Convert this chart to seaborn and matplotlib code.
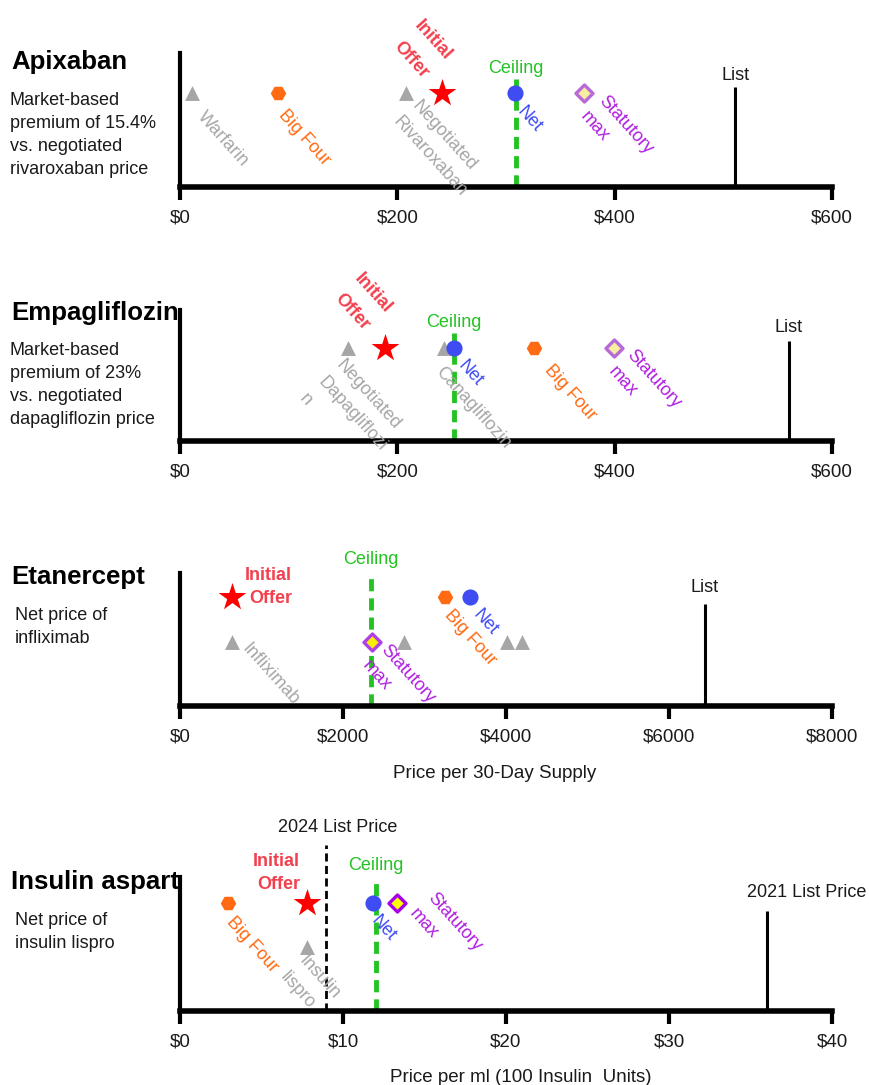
import numpy as np
import pandas as pd
import seaborn as sns
import matplotlib.pyplot as plt

# ---- chart data ----
drugs = ["Apixaban", "Empagliflozin", "Etanercept", "Insulin aspart"]
notes = [
    "Market-based\npremium of 15.4%\nvs. negotiated\nrivaroxaban price",
    "Market-based\npremium of 23%\nvs. negotiated\ndapagliflozin price",
    "Net price of\ninfliximab",
    "Net price of\ninsulin lispro",
]
comparator_prices = [[11, 208], [155, 243], [640, 2744, 4012, 4195], [7.8]]
comparator_names = [
    ["Warfarin", "Negotiated\nRivaroxaban"],
    ["Negotiated\nDapagliflozi\nn", "Canagliflozin"],
    ["Infliximab", "", "", ""],
    ["Insulin\nlispro"],
]
big_four_prices = [90, 326, 3256, 2.94]
initial_offers = [241, 189, 640, 7.8]
net_prices = [308, 252, 3561, 11.85]
ceiling_prices = [309, 252, 2345, 12.0]
statutory_max = [372, 399, 2350, 13.3]
list_prices = [511, 560, 6440, 36.0]
list_names = ["List", "List", "List", "2021 List Price"]
list_2024_insulin = 8.95
x_ticks = [[0, 200, 400, 600], [0, 200, 400, 600],
           [0, 2000, 4000, 6000, 8000], [0, 10, 20, 30, 40]]
x_titles = ["", "", "Price per 30-Day Supply", "Price per ml (100 Insulin  Units)"]

# ---- layout (pixels of the 870x1085 canvas) ----
W, H = 870, 1085
AX_LEFT, AX_RIGHT = 180, 832
AX_SPANS = [(53, 187), (310, 441), (573, 706), (877, 1011)]
ROW_Y = [(0.70, 0.70), (0.71, 0.71), (0.82, 0.48), (0.805, 0.478)]
COMP_ROW = [0, 0, 1, 1]
STAT_ROW = [0, 0, 1, 0]
LIST_TOP = [0.746, 0.763, 0.767, 0.746]
CEIL_TOP = [0.806, 0.824, 1.0, 0.985]
TITLE_Y = [62, 313, 577, 882]
NOTE_TOP = [92, 342, 607, 912]
NOTE_X = [10, 10, 15, 15]
LIST_GAP = [3.5, 5.5, 7.5, 10]
CEIL_GAP = [1.5, 2, 4.5, 5.5]

# label anchor offsets in px (right, down) from the marker
COMP_OFF = [[(15, 15), (15, 4)], [(-3, 9), (1, 16)], [(19, -2)], [(1, 5)]]
BIG_OFF = [(10, 13), (19, 14), (8, 10), (8, 10)]
NET_OFF = [(11, 10), (13, 9), (12, 9), (7, 9)]
STAT_OFF = [(24, -1), (22, -1), (18, -1), (40, -14)]
OFFER_OFF = [(-37, -28), (-40, -30), (60, -10), (-7, -30)]

GRAY = "#a6a6a6"
ORANGE = "#ff6a12"
RED = "#ff0000"
OFFER = "#f2404e"
GREEN = "#22c322"
BLUE = "#3f4cf2"
PURPLE = "#b01fe0"
DIAMOND_FACE = ["#f6eea0", "#f6eea0", "#f8f000", "#ffff00"]
DIAMOND_EDGE = ["#b86ad8", "#b86ad8", "#b040e8", "#a800e8"]
ROT = -48


def px(dx, dy):
    return dx * 0.72, -dy * 0.72


def tag(ax, text, x, y, off, color, **kw):
    ax.annotate(text, (x, y), xytext=px(*off), textcoords="offset points",
                color=color, fontsize=13, rotation=ROT, rotation_mode="anchor",
                ha="left", va="top", linespacing=1.6, annotation_clip=False, **kw)


sns.set_theme(style="white")
plt.rcParams["font.family"] = ["Liberation Sans", "DejaVu Sans"]

fig = plt.figure(figsize=(W / 100, H / 100), dpi=100)

for i, drug in enumerate(drugs):
    top, bottom = AX_SPANS[i]
    ax = fig.add_axes([AX_LEFT / W, 1 - bottom / H,
                       (AX_RIGHT - AX_LEFT) / W, (bottom - top) / H])
    ax.set_xlim(x_ticks[i][0], x_ticks[i][-1])
    ax.set_ylim(0, 1)
    ax.patch.set_alpha(0)

    up, low = ROW_Y[i]
    comp_y = low if COMP_ROW[i] else up
    stat_y = low if STAT_ROW[i] else up

    # reference lines
    ax.vlines(list_prices[i], 0, LIST_TOP[i], color="black", lw=2.2, zorder=2)
    ax.plot([ceiling_prices[i]] * 2, [0, CEIL_TOP[i]], color=GREEN, lw=3.5,
            ls=(0, (2.5, 1.45)), zorder=2)
    if i == 3:
        ax.plot([list_2024_insulin] * 2, [0, 1.24], color="black", lw=2,
                ls=(0, (2.9, 1.6)), zorder=2, clip_on=False)
        ax.annotate("2024 List Price", (list_2024_insulin, 1.24),
                    xytext=px(12, -9), textcoords="offset points", ha="center",
                    va="bottom", fontsize=13, color="#1a1a1a", annotation_clip=False)

    # markers
    comps = comparator_prices[i]
    sns.scatterplot(x=comps, y=[comp_y] * len(comps), marker="^", s=115,
                    color=GRAY, linewidth=0, ax=ax, zorder=3, legend=False)
    sns.scatterplot(x=[big_four_prices[i]], y=[up], marker="H", s=125,
                    color=ORANGE, linewidth=0, ax=ax, zorder=3, legend=False)
    sns.scatterplot(x=[initial_offers[i]], y=[up], marker="*", s=440,
                    color=RED, linewidth=0, ax=ax, zorder=3, legend=False)
    sns.scatterplot(x=[net_prices[i]], y=[up], marker="o", s=135,
                    color=BLUE, linewidth=0, ax=ax, zorder=3, legend=False)
    sns.scatterplot(x=[statutory_max[i]], y=[stat_y], marker="D", s=75,
                    color=DIAMOND_FACE[i], edgecolor=DIAMOND_EDGE[i],
                    linewidth=2.4, ax=ax, zorder=4, legend=False)

    # labels
    for x, name, off in zip(comps, comparator_names[i], COMP_OFF[i]):
        if name:
            tag(ax, name, x, comp_y, off, GRAY)
    tag(ax, "Big Four", big_four_prices[i], up, BIG_OFF[i], ORANGE)
    tag(ax, "Net", net_prices[i], up, NET_OFF[i], BLUE)
    tag(ax, "Statutory\nmax", statutory_max[i], stat_y, STAT_OFF[i], PURPLE)

    if i < 2:
        ax.annotate("Initial\nOffer", (initial_offers[i], up),
                    xytext=px(*OFFER_OFF[i]), textcoords="offset points",
                    rotation=ROT, rotation_mode="anchor", ha="center", va="bottom",
                    multialignment="center", fontsize=13, fontweight="bold",
                    color=OFFER, linespacing=1.9, annotation_clip=False)
    else:
        ax.annotate("Initial\nOffer", (initial_offers[i], up),
                    xytext=px(*OFFER_OFF[i]), textcoords="offset points",
                    ha="right", va="center", multialignment="right",
                    fontsize=13, fontweight="bold", color=OFFER,
                    linespacing=1.45, annotation_clip=False)

    ax.annotate("Ceiling", (ceiling_prices[i], CEIL_TOP[i]),
                xytext=px(0, -CEIL_GAP[i]), textcoords="offset points",
                ha="center", va="bottom", fontsize=13, color=GREEN,
                annotation_clip=False)
    if i < 3:
        ax.annotate(list_names[i], (list_prices[i], LIST_TOP[i]),
                    xytext=px(0, -LIST_GAP[i]), textcoords="offset points",
                    ha="center", va="bottom", fontsize=13, color="#1a1a1a",
                    annotation_clip=False)
    else:
        ax.annotate(list_names[i], (list_prices[i], LIST_TOP[i]),
                    xytext=px(-20, -LIST_GAP[i]), textcoords="offset points",
                    ha="left", va="bottom", fontsize=13, color="#1a1a1a",
                    annotation_clip=False)

    # axes styling
    sns.despine(ax=ax)
    ax.spines["left"].set_linewidth(3)
    ax.spines["bottom"].set_linewidth(4)
    for s in ("left", "bottom"):
        ax.spines[s].set_color("black")
    ax.set_yticks([])
    ax.set_xticks(x_ticks[i])
    ax.set_xticklabels([f"${t}" for t in x_ticks[i]])
    ax.tick_params(axis="x", bottom=True, length=9, width=3, color="black",
                   pad=7.5, labelsize=13.5, labelcolor="#1a1a1a")
    ax.set_ylabel("")
    if x_titles[i]:
        ax.set_xlabel(x_titles[i], fontsize=13.5, color="#1a1a1a")
        ax.xaxis.set_label_coords(0.482 if i == 2 else 0.523,
                                  -0.445 if i == 2 else -0.435)
    else:
        ax.set_xlabel("")

    # left-hand titles
    fig.text(11 / W, 1 - TITLE_Y[i] / H, drug,
             fontsize=18.6, fontweight="bold", va="center", ha="left", color="black")
    fig.text(NOTE_X[i] / W, 1 - NOTE_TOP[i] / H, notes[i], fontsize=13,
             va="top", ha="left", linespacing=1.45, color="#1a1a1a")

fig.savefig("out.png", dpi=100)
